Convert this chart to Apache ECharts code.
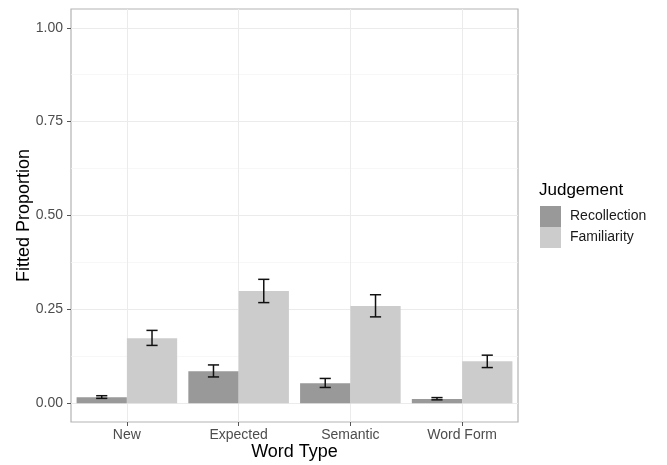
<!DOCTYPE html>
<html>
<head>
<meta charset="utf-8">
<script src="https://cdn.jsdelivr.net/npm/echarts@6/dist/echarts.min.js"></script>
<style>
  html, body { margin: 0; padding: 0; background: #ffffff; }
  #chart { width: 667px; height: 465px; }
</style>
</head>
<body>
<div id="chart"></div>
<script>
// Word types on the x axis
const categories = ['New', 'Expected', 'Semantic', 'Word Form'];

// Fitted proportions with lower / upper error bounds
const recollection     = [0.016, 0.085, 0.053, 0.011];
const recollectionLow  = [0.013, 0.070, 0.042, 0.009];
const recollectionHigh = [0.020, 0.102, 0.066, 0.015];

const familiarity      = [0.173, 0.299, 0.259, 0.112];
const familiarityLow   = [0.154, 0.268, 0.230, 0.095];
const familiarityHigh  = [0.194, 0.330, 0.289, 0.128];

// y tick labels
const yTickValues = [0, 0.25, 0.5, 0.75, 1];

const FONT = '"Liberation Sans", Arial, Helvetica, sans-serif';
const PANEL = { left: 71, right: 149, top: 9, bottom: 43 };
// panel spans -0.05 .. 1.05; the labelled grid spans 0 .. 1 inside it
const panelH = 465 - PANEL.top - PANEL.bottom;
const perUnit = panelH / 1.1;
const zeroY = 465 - PANEL.bottom - 0.05 * perUnit;
const oneY = zeroY - perUnit;

// error bar rows: [category index, low, high, dodge side]
const errRows = [];
categories.forEach((c, i) => {
  errRows.push([i, recollectionLow[i], recollectionHigh[i], -1]);
  errRows.push([i, familiarityLow[i], familiarityHigh[i], 1]);
});

const chart = echarts.init(document.getElementById('chart'), null, { renderer: 'canvas' });

chart.setOption({
  animation: false,
  backgroundColor: '#ffffff',
  textStyle: { fontFamily: FONT },
  title: {
    text: 'Judgement',
    left: 539,
    top: 182,
    padding: 0,
    textStyle: { fontFamily: FONT, fontSize: 17, fontWeight: 'normal', color: '#000000' }
  },
  legend: {
    data: ['Recollection', 'Familiarity'],
    orient: 'vertical',
    left: 540,
    top: 206,
    padding: 0,
    itemGap: 0,
    itemWidth: 21,
    itemHeight: 21,
    icon: 'rect',
    selectedMode: false,
    textStyle: { fontFamily: FONT, fontSize: 14, color: '#1a1a1a', padding: [0, 0, 0, 4] }
  },
  grid: [
    {
      left: PANEL.left, right: PANEL.right, top: PANEL.top, bottom: PANEL.bottom,
      outerBoundsMode: 'none', containLabel: false,
      show: true, borderColor: '#b3b3b3', borderWidth: 1.2, backgroundColor: 'transparent'
    },
    {
      left: PANEL.left, right: PANEL.right, top: oneY, bottom: 465 - zeroY,
      outerBoundsMode: 'none', containLabel: false,
      show: false
    }
  ],
  xAxis: [
    {
      type: 'category',
      gridIndex: 0,
      data: categories,
      axisLine: { show: false, onZero: false },
      axisTick: { show: true, alignWithLabel: true, length: 4, lineStyle: { color: '#555555', width: 1 } },
      axisLabel: { fontFamily: FONT, fontSize: 14, color: '#4d4d4d', margin: 6 },
      splitLine: { show: true, alignWithLabel: true, lineStyle: { color: '#ebebeb', width: 1 } },
      name: 'Word Type',
      nameLocation: 'middle',
      nameGap: 21,
      nameMoveOverlap: false,
      nameTextStyle: { fontFamily: FONT, fontSize: 18, color: '#000000' }
    },
    {
      type: 'category',
      gridIndex: 1,
      data: categories,
      axisLine: { show: false, onZero: false },
      show: false
    }
  ],
  yAxis: [
    {
      type: 'value',
      gridIndex: 0,
      min: -0.05,
      max: 1.05,
      show: false,
      splitLine: { show: false }
    },
    {
      type: 'value',
      gridIndex: 1,
      min: 0,
      max: 1,
      interval: 0.25,
      axisLine: { show: false },
      axisTick: { show: true, length: 4, lineStyle: { color: '#555555', width: 1 } },
      axisLabel: {
        fontFamily: FONT, fontSize: 14, color: '#4d4d4d', margin: 8,
        formatter: v => (yTickValues.includes(v) ? v.toFixed(2) : '')
      },
      splitLine: { show: true, lineStyle: { color: '#ebebeb', width: 1 } },
      minorTick: { show: false, splitNumber: 2 },
      minorSplitLine: { show: true, lineStyle: { color: '#f3f3f3', width: 0.7 } },
      name: 'Fitted Proportion',
      nameLocation: 'middle',
      nameGap: 38,
      nameMoveOverlap: false,
      nameTextStyle: { fontFamily: FONT, fontSize: 18, color: '#000000' }
    }
  ],
  series: [
    {
      name: 'Recollection',
      type: 'bar',
      xAxisIndex: 0,
      yAxisIndex: 0,
      data: recollection,
      barGap: '0%',
      barCategoryGap: '10%',
      itemStyle: { color: '#999999' }
    },
    {
      name: 'Familiarity',
      type: 'bar',
      xAxisIndex: 0,
      yAxisIndex: 0,
      data: familiarity,
      barGap: '0%',
      barCategoryGap: '10%',
      itemStyle: { color: '#cccccc' }
    },
    {
      name: 'errors',
      type: 'custom',
      xAxisIndex: 0,
      yAxisIndex: 0,
      z: 5,
      data: errRows,
      encode: { x: 0, y: [1, 2] },
      renderItem: function (params, api) {
        const i = api.value(0);
        const lo = api.value(1);
        const hi = api.value(2);
        const side = api.value(3);
        const band = api.size([1, 0])[0];
        const pLo = api.coord([i, lo]);
        const pHi = api.coord([i, hi]);
        const cx = pLo[0] + side * 0.225 * band;
        const hw = 0.05 * band;
        const style = { stroke: '#111111', lineWidth: 1.5, fill: null };
        return {
          type: 'group',
          children: [
            { type: 'line', shape: { x1: cx, y1: pLo[1], x2: cx, y2: pHi[1] }, style: style },
            { type: 'line', shape: { x1: cx - hw, y1: pHi[1], x2: cx + hw, y2: pHi[1] }, style: style },
            { type: 'line', shape: { x1: cx - hw, y1: pLo[1], x2: cx + hw, y2: pLo[1] }, style: style }
          ]
        };
      }
    }
  ]
});
</script>
</body>
</html>
